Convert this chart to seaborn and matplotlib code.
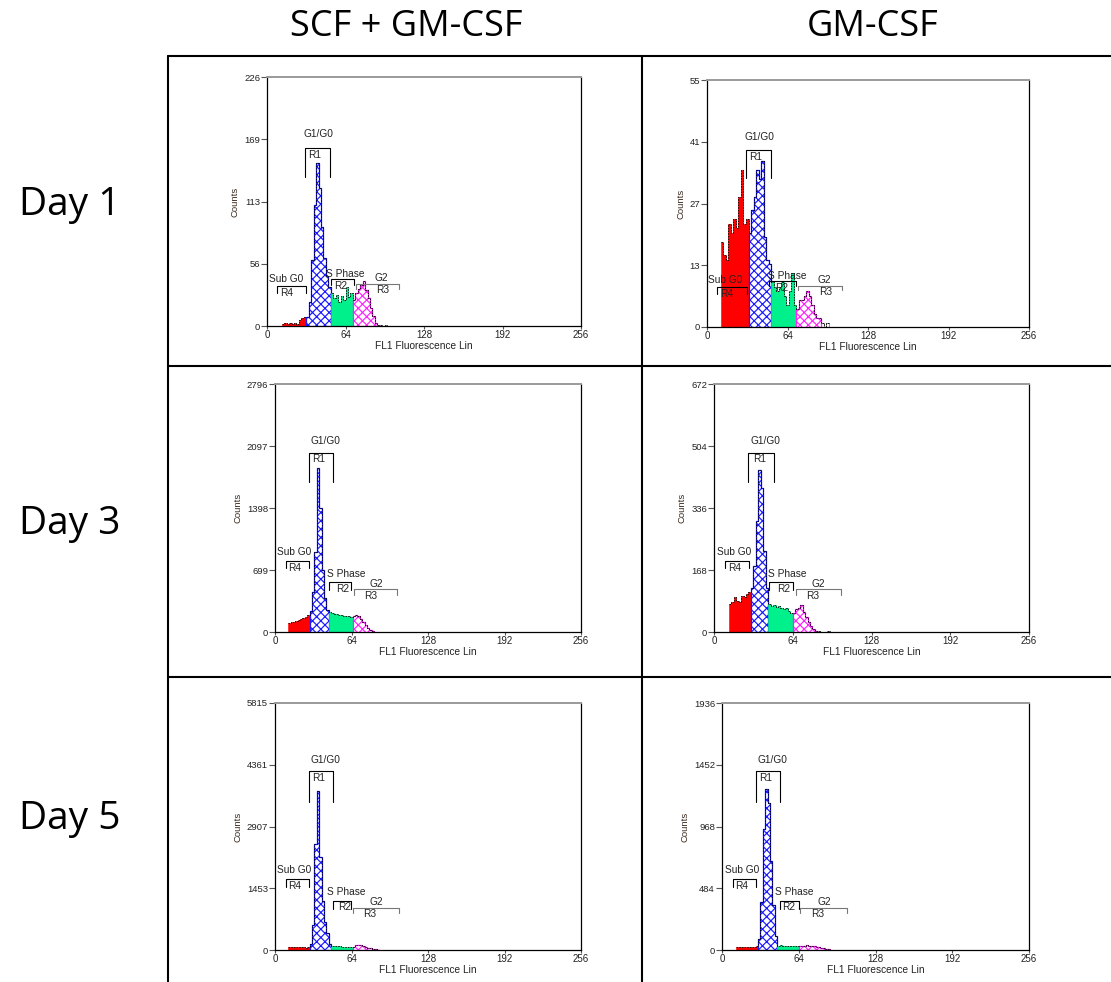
import numpy as np
import matplotlib
matplotlib.use("Agg")
import matplotlib.pyplot as plt
from matplotlib.lines import Line2D
from matplotlib.transforms import blended_transform_factory
import seaborn as sns

sns.set_style("white")
plt.rcParams["font.family"] = ["Liberation Sans", "DejaVu Sans"]
plt.rcParams["hatch.linewidth"] = 0.85

W, H = 1111, 982

conditions = ["SCF + GM-CSF", "GM-CSF"]
days = ["Day 1", "Day 3", "Day 5"]

# ---- histogram data (2-channel bins), panels ordered row by row ----
y_max = [226, 55, 2796, 672, 5815, 1936]
first_ch = [12, 11, 11, 12, 11, 12]
# region boundaries: end of R4 (sub G0), R1 (G1/G0), R2 (S), R3 (G2)
cuts = [
    [32, 52, 70, 90],
    [33, 51, 71, 91],
    [29, 45, 65, 83],
    [30, 44, 64, 84],
    [29, 47, 65, 87],
    [30, 46, 64, 90],
]

counts_scf_d1 = [2, 3, 2, 3, 2, 3, 2, 5, 7, 8,
                 8, 22, 60, 110, 148, 125, 90, 62, 45, 35,
                 30, 25, 28, 22, 27, 24, 35, 26, 30,
                 24, 30, 34, 37, 41, 33, 25, 16, 9, 3,
                 1, 1, 0, 1]
counts_gm_d1 = [19, 16, 15, 23, 21, 24, 22, 29, 35, 23, 24,
                21, 26, 29, 35, 33, 37, 20, 15, 14,
                10, 9, 8, 9, 10, 7, 5, 8, 12, 5,
                4, 6, 6, 7, 8, 7, 5, 3, 2, 2,
                1, 0, 1]
counts_scf_d3 = [100, 110, 115, 125, 135, 145, 155, 170, 190,
                 240, 450, 900, 1850, 1400, 700, 380, 250,
                 225, 215, 205, 200, 195, 190, 185, 180, 178, 172,
                 178, 190, 180, 150, 110, 80, 45, 22, 10,
                 5, 3, 2, 1, 1]
counts_gm_d3 = [75, 82, 95, 85, 82, 98, 96, 102, 108,
                120, 180, 300, 440, 390, 220, 120,
                75, 70, 72, 67, 70, 65, 61, 65, 57, 52,
                52, 63, 66, 72, 55, 40, 26, 15, 8, 4,
                2, 1, 1, 1, 2, 1, 0, 0, 0, 0, 0, 0, 0, 0, 0, 1]
counts_scf_d5 = [70, 60, 65, 60, 65, 60, 62, 58, 65,
                 150, 600, 2500, 3750, 2200, 1150, 650, 400, 150,
                 95, 90, 85, 88, 80, 82, 75, 70, 68,
                 80, 110, 125, 110, 90, 70, 55, 40, 28, 18, 8,
                 4, 2]
counts_gm_d5 = [22, 25, 20, 24, 21, 26, 22, 25, 28,
                90, 380, 950, 1260, 1150, 700, 350, 110,
                35, 38, 33, 30, 34, 31, 29, 30, 28,
                30, 28, 32, 36, 34, 32, 30, 26, 22, 16, 12, 8, 4,
                2]
all_counts = [counts_scf_d1, counts_gm_d1, counts_scf_d3,
              counts_gm_d3, counts_scf_d5, counts_gm_d5]

# gate markers: phase, region, x0, x1, bar y, drop y, phase label y, phase label x, region label x
gates = [
    [("G1/G0", "R1", 30.7, 51.6, 0.714, 0.600, 0.772, 41.6, 38.8),
     ("Sub G0", "R4", 8.2, 32.0, 0.161, 0.134, 0.188, 15.2, 15.8),
     ("S Phase", "R2", 52.2, 70.9, 0.187, 0.164, 0.207, 64.0, 60.0),
     ("G2", "R3", 72.3, 107.6, 0.170, 0.150, 0.191, 93.5, 94.5)],
    [("G1/G0", "R1", 31.3, 51.2, 0.715, 0.602, 0.771, 41.3, 38.7),
     ("Sub G0", "R4", 8.0, 31.8, 0.160, 0.133, 0.189, 14.8, 15.9),
     ("S Phase", "R2", 49.0, 71.0, 0.185, 0.164, 0.205, 63.9, 59.1),
     ("G2", "R3", 72.6, 107.6, 0.167, 0.151, 0.191, 93.0, 94.1)],
    [("G1/G0", "R1", 28.4, 48.5, 0.723, 0.603, 0.772, 41.8, 36.5),
     ("Sub G0", "R4", 9.2, 28.4, 0.286, 0.259, 0.322, 16.4, 16.7),
     ("S Phase", "R2", 45.5, 63.9, 0.201, 0.168, 0.235, 60.0, 56.3),
     ("G2", "R3", 66.1, 102.3, 0.172, 0.150, 0.195, 84.8, 80.3)],
    [("G1/G0", "R1", 27.9, 48.4, 0.723, 0.603, 0.772, 41.7, 36.8),
     ("Sub G0", "R4", 9.2, 28.1, 0.286, 0.259, 0.322, 16.2, 16.8),
     ("S Phase", "R2", 44.9, 64.1, 0.201, 0.168, 0.235, 59.5, 56.8),
     ("G2", "R3", 66.3, 103.1, 0.172, 0.150, 0.195, 84.7, 80.1)],
    [("G1/G0", "R1", 28.4, 48.5, 0.724, 0.600, 0.771, 41.8, 36.5),
     ("Sub G0", "R4", 9.2, 28.4, 0.287, 0.257, 0.322, 16.4, 16.7),
     ("S Phase", "R2", 48.5, 63.9, 0.200, 0.166, 0.234, 60.0, 58.3),
     ("G2", "R3", 65.3, 103.7, 0.171, 0.149, 0.194, 84.8, 79.5)],
    [("G1/G0", "R1", 28.3, 48.6, 0.724, 0.600, 0.771, 42.0, 36.7),
     ("Sub G0", "R4", 9.2, 28.6, 0.287, 0.257, 0.322, 16.4, 16.7),
     ("S Phase", "R2", 48.4, 63.9, 0.200, 0.166, 0.234, 60.0, 55.9),
     ("G2", "R3", 65.3, 104.0, 0.171, 0.149, 0.194, 85.0, 79.5)],
]

# axes boxes in pixels: left, top, right, bottom
boxes = [(267, 77, 581, 326), (707, 80, 1029, 327),
         (275, 384, 581, 632), (714, 384, 1029, 632),
         (275, 703, 581, 950), (722, 703, 1029, 950)]

region_styles = [
    dict(color="#ff0000", facecolor="#ff0000", edgecolor="#ff0000", linewidth=0.4),
    dict(color="#1a1aff", facecolor="white", edgecolor="#1a1aff", hatch="xxxx", linewidth=0.9),
    dict(color="#00f08c", facecolor="#00f08c", edgecolor="#00f08c", linewidth=0.4),
    dict(color="#ff22ff", facecolor="white", edgecolor="#ff22ff", hatch="xxxx", linewidth=0.9),
    dict(color="#888888", facecolor="none", edgecolor="#888888", linewidth=0.6),
]

fig = plt.figure(figsize=(W / 100, H / 100), dpi=100)

for k in range(6):
    l, t, r, b = boxes[k]
    ax = fig.add_axes([l / W, 1 - b / H, (r - l) / W, (b - t) / H])
    counts = np.asarray(all_counts[k], float)
    start = first_ch[k]
    edges = start + 2 * np.arange(len(counts) + 1)
    centers = edges[:-1] + 1
    bounds = [start] + cuts[k] + [edges[-1]]
    for i in range(len(bounds) - 1):
        lo, hi = bounds[i], bounds[i + 1]
        m = (centers > lo) & (centers < hi)
        if not m.any():
            continue
        e = edges[(edges >= lo) & (edges <= hi)].tolist()
        sns.histplot(x=centers[m], weights=counts[m], bins=e, element="step",
                     fill=True, alpha=1, ax=ax, **region_styles[i])
    sns.histplot(x=centers, weights=counts, bins=edges.tolist(), element="step",
                 fill=False, color="black", linestyle=(0, (2, 1.2)),
                 linewidth=0.6, ax=ax)

    ymax = y_max[k]
    ax.set_xlim(0, 256)
    ax.set_ylim(0, ymax)
    ax.set_xticks([0, 64, 128, 192, 256])
    yt = ymax * np.array([0, 0.25, 0.5, 0.75, 1.0])
    ax.set_yticks(yt)
    ax.set_yticklabels([str(int(v)) for v in yt])
    ax.tick_params(axis="y", length=4, width=0.8, pad=1, labelsize=6.8,
                   color="#555555", labelcolor="#222222", left=True)
    ax.tick_params(axis="x", length=2, width=0.8, pad=1.2, labelsize=7,
                   color="#555555", labelcolor="#222222", bottom=True)
    ax.set_xlabel("FL1 Fluorescence Lin", fontsize=7.3, labelpad=0.5,
                  color="#222222")
    ax.set_ylabel("Counts", fontsize=6.8, labelpad=3, color="#3a2a20")
    for side in ["left", "right", "bottom"]:
        ax.spines[side].set_color("black")
        ax.spines[side].set_linewidth(0.9)
    ax.spines["top"].set_color("#9a9a9a")
    ax.spines["top"].set_linewidth(1.4)

    tr = blended_transform_factory(ax.transData, ax.transAxes)
    for phase, reg, x0, x1, ybar, ydrop, yph, xph, xreg in gates[k]:
        col = "#777777" if reg == "R3" else "black"
        ax.plot([x0, x0, x1, x1], [ydrop, ybar, ybar, ydrop], color=col,
                lw=0.8, transform=tr, clip_on=False)
        ax.text(xph, yph, phase, transform=tr, ha="center", va="center",
                fontsize=7.3, color="#222222")
        ax.text(xreg, ybar - 0.027, reg, transform=tr, ha="center",
                va="center", fontsize=7.3, color="#222222")

# column and row headers
for x, name in zip([406, 873], conditions):
    fig.text(x / W, 1 - 36 / H, name, ha="center", va="baseline",
             fontsize=26, family=["Open Sans", "DejaVu Sans"], color="black")
for y, name in zip([215, 534, 829], days):
    fig.text(70 / W, 1 - y / H, name, ha="center", va="baseline",
             fontsize=28, family=["Open Sans", "DejaVu Sans"], color="black")

# table grid
for y in [56, 366, 677]:
    fig.add_artist(Line2D([168 / W, 1], [1 - y / H] * 2, color="black",
                          lw=1.5, transform=fig.transFigure))
for x in [168, 642]:
    fig.add_artist(Line2D([x / W] * 2, [1 - 56 / H, 0], color="black",
                          lw=1.5, transform=fig.transFigure))

fig.savefig("out.png", dpi=100)
